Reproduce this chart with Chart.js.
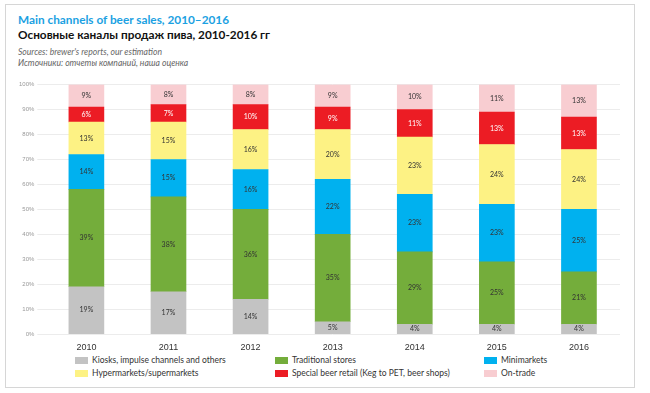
<!DOCTYPE html>
<html>
<head>
<meta charset="utf-8">
<script src="https://cdn.jsdelivr.net/npm/chart.js@4.4.1/dist/chart.umd.min.js"></script>
<style>
  body { margin: 0; background: #fff; font-family: Lato, "Noto Sans", sans-serif; }
  #frame { position: absolute; left: 5px; top: 4px; width: 630px; height: 384px; border: 1px solid #d6d6d6; box-sizing: border-box; }
  #t1 { position: absolute; left: 12px; top: 7px; font-size: 11.8px; font-weight: bold; color: #1ba1e2; }
  #t2 { position: absolute; left: 12px; top: 22px; font-size: 11.8px; font-weight: bold; color: #111; }
  .src { position: absolute; left: 12px; font-size: 8.6px; font-style: italic; color: #666; }
  #chartBox { position: absolute; left: 10px; top: 73px; width: 604px; height: 275px; }
  #legend { position: absolute; left: 0; top: 350px; width: 630px; font-size: 8.5px; color: #333; }
  .li { position: absolute; white-space: nowrap; }
  .sw { display: inline-block; width: 13px; height: 7px; margin-right: 4px; vertical-align: -1px; }
</style>
</head>
<body>
<div id="frame">
  <div id="t1">Main channels of beer sales, 2010–2016</div>
  <div id="t2">Основные каналы продаж пива, 2010-2016 гг</div>
  <div class="src" style="top:42px">Sources: brewer's reports, our estimation</div>
  <div class="src" style="top:53px">Источники: отчеты компаний, наша оценка</div>
  <div id="chartBox"><canvas id="chart"></canvas></div>
  <div id="legend"></div>
</div>
<script>
var years = ['2010', '2011', '2012', '2013', '2014', '2015', '2016'];
var kiosks = [19, 17, 14, 5, 4, 4, 4];
var traditional = [39, 38, 36, 35, 29, 25, 21];
var minimarkets = [14, 15, 16, 22, 23, 23, 25];
var hypermarkets = [13, 15, 16, 20, 23, 24, 24];
var specialBeer = [6, 7, 10, 9, 11, 13, 13];
var onTrade = [9, 8, 8, 9, 10, 11, 13];
var yTicks = ['0%', '10%', '20%', '30%', '40%', '50%', '60%', '70%', '80%', '90%', '100%'];

var series = [
  { label: 'Kiosks, impulse channels and others', data: kiosks, color: '#c3c3c3', text: '#333' },
  { label: 'Traditional stores', data: traditional, color: '#74ad3b', text: '#333' },
  { label: 'Minimarkets', data: minimarkets, color: '#00b1ef', text: '#333' },
  { label: 'Hypermarkets/supermarkets', data: hypermarkets, color: '#fdf284', text: '#333' },
  { label: 'Special beer retail (Keg to PET, beer shops)', data: specialBeer, color: '#ec1c24', text: '#fff' },
  { label: 'On-trade', data: onTrade, color: '#f8cdd1', text: '#333' }
];

// simple labels in the middle of each segment
var segLabels = {
  id: 'segLabels',
  afterDatasetsDraw: function (chart) {
    var ctx = chart.ctx;
    ctx.save();
    ctx.font = '7px Lato, sans-serif';
    ctx.textAlign = 'center';
    ctx.textBaseline = 'middle';
    chart.data.datasets.forEach(function (ds, i) {
      var meta = chart.getDatasetMeta(i);
      meta.data.forEach(function (bar, j) {
        ctx.fillStyle = ds.textColor;
        ctx.fillText(ds.data[j] + '%', bar.x, (bar.y + bar.base) / 2);
      });
    });
    ctx.restore();
  }
};

var ctx = document.getElementById('chart').getContext('2d');
var chart = new Chart(ctx, {
  type: 'bar',
  data: {
    labels: years,
    datasets: series.map(function (s) {
      return {
        label: s.label,
        data: s.data,
        backgroundColor: s.color,
        textColor: s.text,
        barThickness: 35
      };
    })
  },
  options: {
    responsive: true,
    maintainAspectRatio: false,
    animation: false,
    layout: { padding: { top: 2, right: 0, left: 0, bottom: 0 } },
    scales: {
      x: {
        stacked: true,
        grid: { display: false },
        border: { display: false },
        ticks: { color: '#333', font: { size: 9 }, padding: 0 }
      },
      y: {
        stacked: true,
        min: 0,
        max: 100,
        ticks: {
          stepSize: 10,
          color: '#999',
          font: { size: 6 },
          callback: function (v) { return yTicks[v / 10]; }
        },
        grid: { color: '#ececec' },
        border: { display: false }
      }
    },
    plugins: {
      legend: { display: false },
      tooltip: { enabled: false }
    }
  },
  plugins: [segLabels]
});

// legend in three columns
var legend = document.getElementById('legend');
var colX = [69, 269, 478];
series.forEach(function (s, i) {
  var item = document.createElement('div');
  item.className = 'li';
  item.style.left = colX[i % 3] + 'px';
  item.style.top = (Math.floor(i / 3) * 13) + 'px';
  item.innerHTML = '<span class="sw" style="background:' + s.color + '"></span>' + s.label;
  legend.appendChild(item);
});
</script>
</body>
</html>
